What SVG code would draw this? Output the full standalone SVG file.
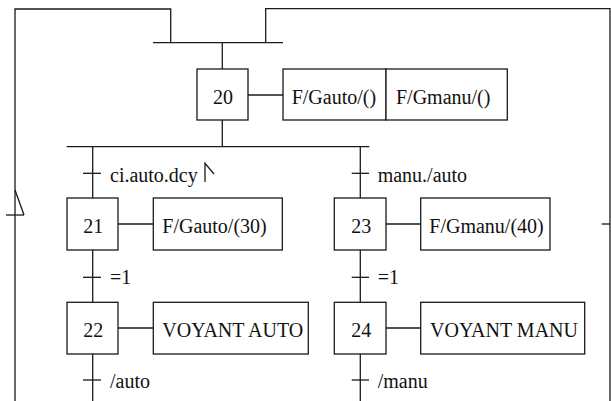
<svg xmlns="http://www.w3.org/2000/svg" width="611" height="401" viewBox="0 0 611 401">
<style>
.s{fill:#fff;stroke:#1a1a1a;stroke-width:1.3}
.l{fill:none;stroke:#1a1a1a;stroke-width:1.3}
text{font-family:'Liberation Serif','Times New Roman',Times,serif;font-size:20px;fill:#111}
.c{text-anchor:middle}
</style>
<rect width="611" height="401" fill="#fff"/>
<g id="connectors">
<polyline class="l" points="15,401 15,9 170.7,9 170.7,42.7"/>
<polyline class="l" points="265.7,42.7 265.7,8.7 610,8.7 610,401"/>
<line class="l" x1="153" y1="42.7" x2="283" y2="42.7"/>
<line class="l" x1="222.3" y1="42.7" x2="222.3" y2="69"/>
<line class="l" x1="222.3" y1="120" x2="222.3" y2="146.7"/>
<line class="l" x1="66.7" y1="146.7" x2="369.3" y2="146.7"/>
<line class="l" x1="92.7" y1="146.7" x2="92.7" y2="198"/>
<line class="l" x1="92.7" y1="250" x2="92.7" y2="302"/>
<line class="l" x1="92.7" y1="354" x2="92.7" y2="401"/>
<line class="l" x1="360.3" y1="146.7" x2="360.3" y2="198"/>
<line class="l" x1="360.3" y1="250" x2="360.3" y2="302"/>
<line class="l" x1="360.3" y1="354" x2="360.3" y2="401"/>
<line class="l" x1="248" y1="95" x2="283" y2="95"/>
<line class="l" x1="118" y1="224" x2="153" y2="224"/>
<line class="l" x1="118" y1="328" x2="153" y2="328"/>
<line class="l" x1="386" y1="224" x2="421" y2="224"/>
<line class="l" x1="386" y1="328" x2="421" y2="328"/>
<line class="l" x1="83" y1="173.3" x2="101" y2="173.3"/>
<line class="l" x1="83" y1="277.3" x2="101" y2="277.3"/>
<line class="l" x1="83" y1="380" x2="101" y2="380"/>
<line class="l" x1="351.7" y1="173.3" x2="369" y2="173.3"/>
<line class="l" x1="351.7" y1="277.3" x2="369" y2="277.3"/>
<line class="l" x1="351.7" y1="380" x2="369" y2="380"/>
<line class="l" x1="6" y1="215" x2="24" y2="215"/>
<line class="l" x1="15" y1="190" x2="24" y2="215"/>
<line class="l" x1="601.7" y1="224" x2="610" y2="224"/>
<polyline class="l" points="205,182 205,163.3 214,174"/>
<text x="110" y="181.7" font-family="Liberation Serif, serif">ci.auto.dcy</text>
<text x="110" y="284.3" font-family="Liberation Serif, serif">=1</text>
<text x="110" y="388.3" font-family="Liberation Serif, serif">/auto</text>
<text x="377.7" y="181.7" font-family="Liberation Serif, serif">manu./auto</text>
<text x="377.7" y="284.3" font-family="Liberation Serif, serif">=1</text>
<text x="377.7" y="388.3" font-family="Liberation Serif, serif">/manu</text>
</g>
<g id="step20"><rect class="s" x="197" y="69" width="51" height="51"/><text class="c" x="223" y="103.5">20</text></g>
<g id="action20a"><rect class="s" x="283" y="69" width="103" height="51"/><text x="291.7" y="103.5">F/Gauto/()</text></g>
<g id="action20b"><rect class="s" x="386" y="69" width="121.3" height="51"/><text x="396" y="103.5">F/Gmanu/()</text></g>
<g id="step21"><rect class="s" x="67" y="198" width="51" height="52"/><text class="c" x="93.3" y="233">21</text></g>
<g id="action21"><rect class="s" x="153.3" y="198" width="129" height="52"/><text x="162.3" y="233">F/Gauto/(30)</text></g>
<g id="step22"><rect class="s" x="67" y="302.3" width="51" height="51.7"/><text class="c" x="93.3" y="336.7">22</text></g>
<g id="action22"><rect class="s" x="153.3" y="302.3" width="155" height="51.7"/><text x="162.3" y="336.7">VOYANT AUTO</text></g>
<g id="step23"><rect class="s" x="334.3" y="198" width="51.7" height="52"/><text class="c" x="361.3" y="233">23</text></g>
<g id="action23"><rect class="s" x="420.7" y="198" width="129.3" height="52"/><text x="429.3" y="233">F/Gmanu/(40)</text></g>
<g id="step24"><rect class="s" x="334.3" y="302.3" width="51.7" height="51.7"/><text class="c" x="361.3" y="336.7">24</text></g>
<g id="action24"><rect class="s" x="420.7" y="302.3" width="164" height="51.7"/><text x="430" y="336.7">VOYANT MANU</text></g>
</svg>
